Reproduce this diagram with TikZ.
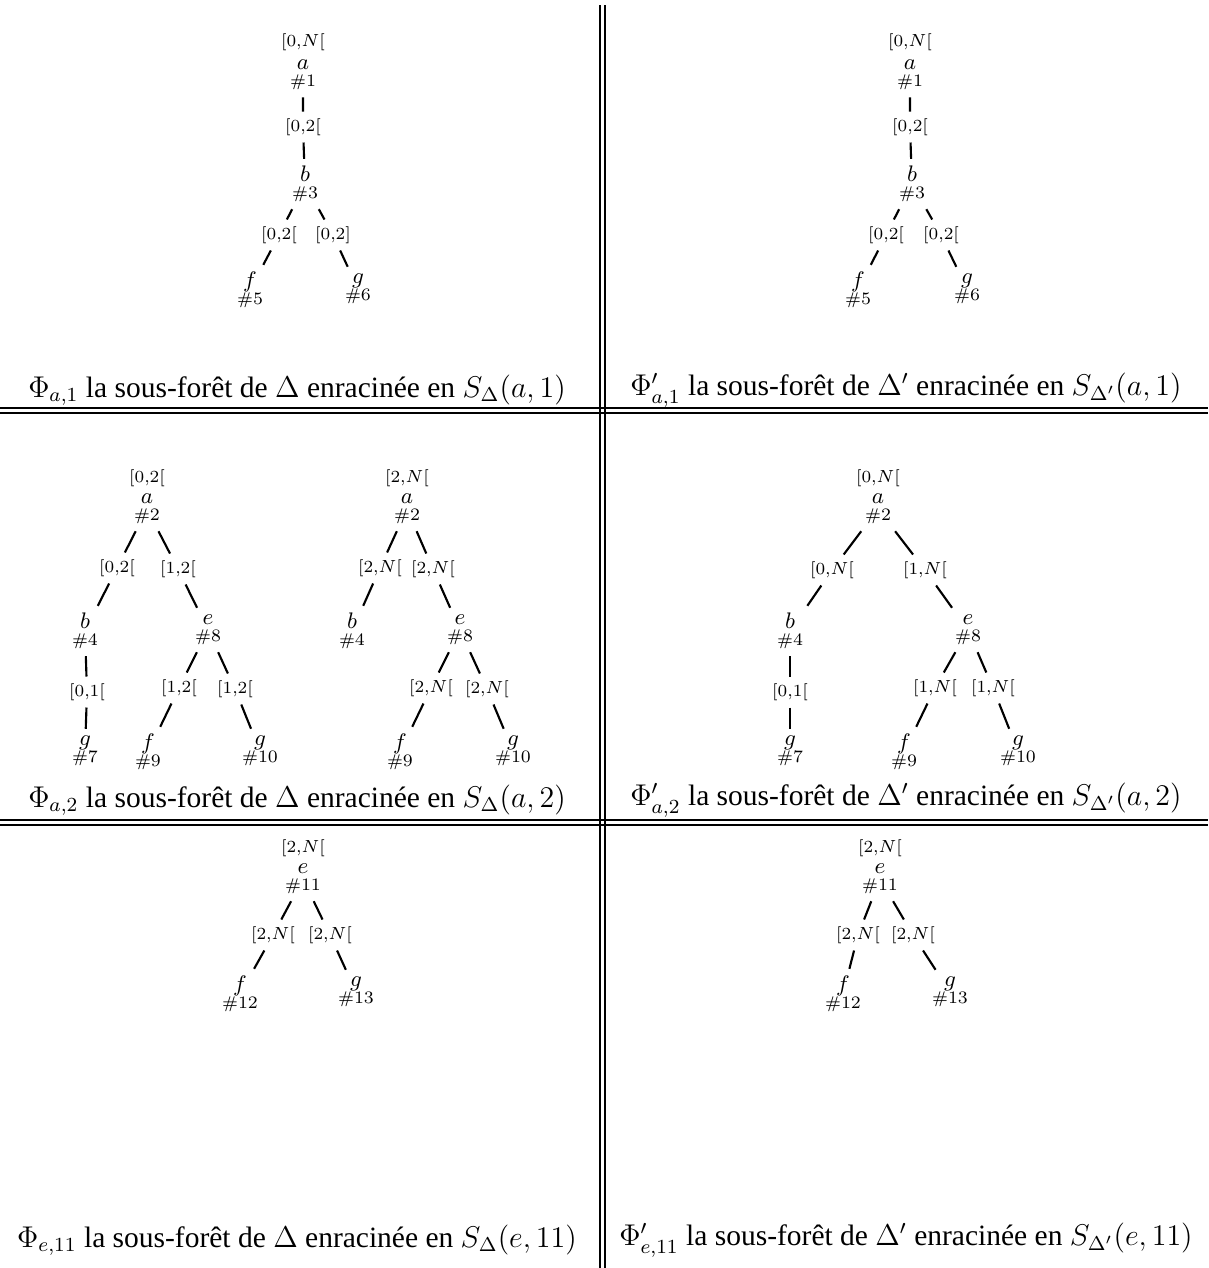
\documentclass[tikz,border=0pt]{standalone}
\usepackage{fontspec}
\newfontfamily\capfont{Liberation Serif}
\usepackage{amsmath,amssymb}
\usepackage{tikz}
\usetikzlibrary{positioning}

% letter over its number
\newcommand{\vlab}[2]{$#1$\\{\fontsize{6.8}{7}\selectfont$\##2$}}

\begin{document}
\begin{tikzpicture}[x=0.4pt,y=-0.4pt,
    vtx/.style={align=center,inner sep=0pt,outer sep=2.8pt,font=\fontsize{8.8}{7}\selectfont},
    ival/.style={inner sep=0pt,outer sep=2.8pt,font=\fontsize{6.8}{7}\selectfont},
    link/.style={line width=0.85pt},
    captxt/.style={inner sep=0pt,font=\capfont\fontsize{11.8}{14}\selectfont},
    tabrule/.style={line width=0.8pt}]
  \useasboundingbox (0,0) rectangle (1208,1268);

  % table rules
  \draw[tabrule] (0,408) -- (1208,408) (0,413) -- (1208,413);
  \draw[tabrule] (0,820) -- (1208,820) (0,825) -- (1208,825);
  \draw[tabrule] (600,5) -- (600,1268) (605,5) -- (605,1268);

  % top left
  \node[ival] (tlr) at (303,42) {[0,$N$[};
  \node[vtx] (tla1) at (303,75) {\vlab{a}{1}};
  \node[ival] (tli1) at (303,127) {[0,2[};
  \node[vtx] (tlb3) at (305,184) {\vlab{b}{3}};
  \node[ival] (tli2) at (279,235) {[0,2[};
  \node[ival] (tli3) at (333,235) {[0,2]};
  \node[vtx] (tlf5) at (250,290) {\vlab{f}{5}};
  \node[vtx] (tlg6) at (358,289) {\vlab{g}{6}};
  \draw[link] (tla1) -- (tli1) (tli1) -- (tlb3);
  \draw[link] (tlb3) -- (tli2) (tli2) -- (tlf5);
  \draw[link] (tlb3) -- (tli3) (tli3) -- (tlg6);
  \node[captxt] (captl) at (297,390) {$\Phi_{a,1}$ la sous-forêt de $\Delta$ enracinée en $S_\Delta(a,1)$};

  % top right
  \node[ival] (trr) at (910,42) {[0,$N$[};
  \node[vtx] (tra1) at (910,75) {\vlab{a}{1}};
  \node[ival] (tri1) at (910,127) {[0,2[};
  \node[vtx] (trb3) at (912,184) {\vlab{b}{3}};
  \node[ival] (tri2) at (886,235) {[0,2[};
  \node[ival] (tri3) at (941,235) {[0,2[};
  \node[vtx] (trf5) at (858,290) {\vlab{f}{5}};
  \node[vtx] (trg6) at (967,289) {\vlab{g}{6}};
  \draw[link] (tra1) -- (tri1) (tri1) -- (trb3);
  \draw[link] (trb3) -- (tri2) (tri2) -- (trf5);
  \draw[link] (trb3) -- (tri3) (tri3) -- (trg6);
  \node[captxt] (captr) at (906,390) {$\Phi'_{a,1}$ la sous-forêt de $\Delta'$ enracinée en $S_{\Delta'}(a,1)$};

  % middle left, first tree
  \node[ival] (mlr) at (147,478) {[0,2[};
  \node[vtx] (mla2) at (147,509) {\vlab{a}{2}};
  \node[ival] (mli1) at (117,568) {[0,2[};
  \node[ival] (mli2) at (178,569) {[1,2[};
  \node[vtx] (mlb4) at (85,631) {\vlab{b}{4}};
  \node[vtx] (mle8) at (208,630) {\vlab{e}{8}};
  \node[ival] (mli3) at (87,692) {[0,1[};
  \node[vtx] (mlg7) at (85,751) {\vlab{g}{7}};
  \node[ival] (mli4) at (179,688) {[1,2[};
  \node[ival] (mli5) at (235,689) {[1,2[};
  \node[vtx] (mlf9) at (148,752) {\vlab{f}{9}};
  \node[vtx] (mlg10) at (260,751) {\vlab{g}{10}};
  \draw[link] (mla2) -- (mli1) (mli1) -- (mlb4);
  \draw[link] (mla2) -- (mli2) (mli2) -- (mle8);
  \draw[link] (mlb4) -- (mli3) (mli3) -- (mlg7);
  \draw[link] (mle8) -- (mli4) (mli4) -- (mlf9);
  \draw[link] (mle8) -- (mli5) (mli5) -- (mlg10);

  % middle left, second tree
  \node[ival] (nlr) at (407,478) {[2,$N$[};
  \node[vtx] (nla2) at (407,509) {\vlab{a}{2}};
  \node[ival] (nli1) at (380,568) {[2,$N$[};
  \node[ival] (nli2) at (433,569) {[2,$N$[};
  \node[vtx] (nlb4) at (352,631) {\vlab{b}{4}};
  \node[vtx] (nle8) at (460,630) {\vlab{e}{8}};
  \node[ival] (nli4) at (431,688) {[2,$N$[};
  \node[ival] (nli5) at (487,689) {[2,$N$[};
  \node[vtx] (nlf9) at (400,752) {\vlab{f}{9}};
  \node[vtx] (nlg10) at (513,751) {\vlab{g}{10}};
  \draw[link] (nla2) -- (nli1) (nli1) -- (nlb4);
  \draw[link] (nla2) -- (nli2) (nli2) -- (nle8);
  \draw[link] (nle8) -- (nli4) (nli4) -- (nlf9);
  \draw[link] (nle8) -- (nli5) (nli5) -- (nlg10);
  \node[captxt] (capml) at (297,800) {$\Phi_{a,2}$ la sous-forêt de $\Delta$ enracinée en $S_\Delta(a,2)$};

  % middle right
  \node[ival] (mrr) at (878,478) {[0,$N$[};
  \node[vtx] (mra2) at (878,509) {\vlab{a}{2}};
  \node[ival] (mri1) at (832,570) {[0,$N$[};
  \node[ival] (mri2) at (925,570) {[1,$N$[};
  \node[vtx] (mrb4) at (790,631) {\vlab{b}{4}};
  \node[vtx] (mre8) at (968,630) {\vlab{e}{8}};
  \node[ival] (mri3) at (790,692) {[0,1[};
  \node[vtx] (mrg7) at (790,751) {\vlab{g}{7}};
  \node[ival] (mri4) at (935,688) {[1,$N$[};
  \node[ival] (mri5) at (993,688) {[1,$N$[};
  \node[vtx] (mrf9) at (904,752) {\vlab{f}{9}};
  \node[vtx] (mrg10) at (1018,751) {\vlab{g}{10}};
  \draw[link] (mra2) -- (mri1) (mri1) -- (mrb4);
  \draw[link] (mra2) -- (mri2) (mri2) -- (mre8);
  \draw[link] (mrb4) -- (mri3) (mri3) -- (mrg7);
  \draw[link] (mre8) -- (mri4) (mri4) -- (mrf9);
  \draw[link] (mre8) -- (mri5) (mri5) -- (mrg10);
  \node[captxt] (capmr) at (906,800) {$\Phi'_{a,2}$ la sous-forêt de $\Delta'$ enracinée en $S_{\Delta'}(a,2)$};

  % bottom left
  \node[ival] (blr) at (303,848) {[2,$N$[};
  \node[vtx] (ble11) at (303,879) {\vlab{e}{11}};
  \node[ival] (bli1) at (273,935) {[2,$N$[};
  \node[ival] (bli2) at (330,935) {[2,$N$[};
  \node[vtx] (blf12) at (240,994) {\vlab{f}{12}};
  \node[vtx] (blg13) at (356,992) {\vlab{g}{13}};
  \draw[link] (ble11) -- (bli1) (bli1) -- (blf12);
  \draw[link] (ble11) -- (bli2) (bli2) -- (blg13);
  \node[captxt] (capbl) at (297,1240) {$\Phi_{e,11}$ la sous-forêt de $\Delta$ enracinée en $S_\Delta(e,11)$};

  % bottom right
  \node[ival] (brr) at (880,848) {[2,$N$[};
  \node[vtx] (bre11) at (880,879) {\vlab{e}{11}};
  \node[ival] (bri1) at (858,935) {[2,$N$[};
  \node[ival] (bri2) at (913,935) {[2,$N$[};
  \node[vtx] (brf12) at (843,994) {\vlab{f}{12}};
  \node[vtx] (brg13) at (950,992) {\vlab{g}{13}};
  \draw[link] (bre11) -- (bri1) (bri1) -- (brf12);
  \draw[link] (bre11) -- (bri2) (bri2) -- (brg13);
  \node[captxt] (capbr) at (906,1240) {$\Phi'_{e,11}$ la sous-forêt de $\Delta'$ enracinée en $S_{\Delta'}(e,11)$};
\end{tikzpicture}
\end{document}
